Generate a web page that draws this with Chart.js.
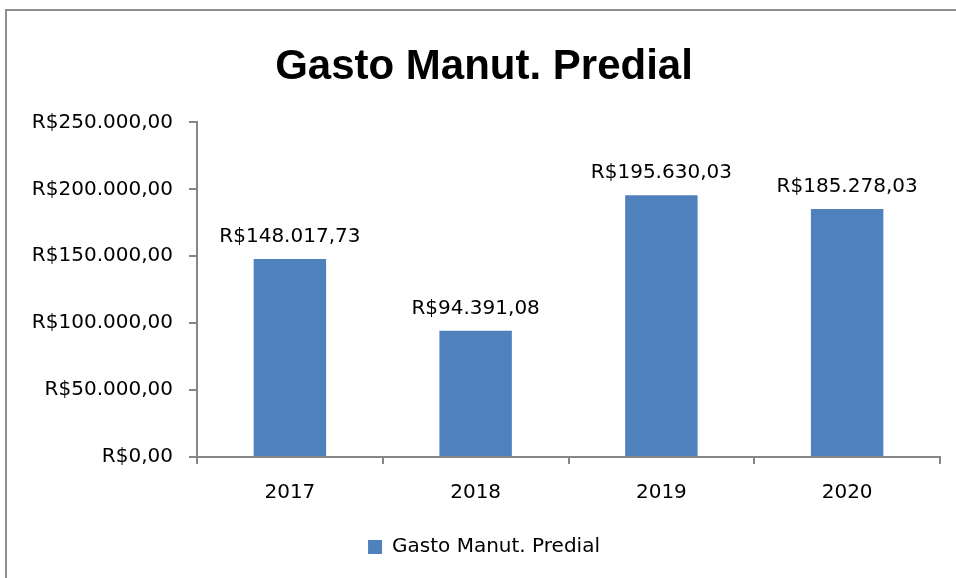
<!DOCTYPE html>
<html>
<head>
<meta charset="utf-8">
<script src="https://cdn.jsdelivr.net/npm/chart.js@4"></script>
<style>
  html, body { margin: 0; padding: 0; background: #fff; }
  #moldura { position: absolute; left: 5px; top: 9px; width: 960px; height: 600px;
             border-left: 2px solid #8e8e8e; border-top: 2px solid #8e8e8e; }
  #caixa { position: absolute; left: 0; top: 0; width: 956px; height: 578px; }
</style>
</head>
<body>
<div id="moldura"></div>
<div id="caixa"><canvas id="grafico" width="956" height="578"></canvas></div>
<script>
// dados do grafico
var anos = ['2017', '2018', '2019', '2020'];
var gastos = [148017.73, 94391.08, 195630.03, 185278.03];
var ticksY = [0, 50000, 100000, 150000, 200000, 250000];
var titulo = 'Gasto Manut. Predial';

// formata em reais: R$148.017,73
function reais(v){
	var partes = v.toFixed(2).split('.');
	var inteiro = partes[0].replace(/\B(?=(\d{3})+(?!\d))/g, '.');
	return 'R$' + inteiro + ',' + partes[1];
}

// rotulos em cima das barras
var rotulos = {
	id: 'rotulos',
	afterDatasetsDraw: function(chart){
		var ctx = chart.ctx;
		var meta = chart.getDatasetMeta(0);
		ctx.save();
		ctx.font = '20px "DejaVu Sans"';
		ctx.fillStyle = '#000';
		ctx.textAlign = 'center';
		ctx.textBaseline = 'alphabetic';
		meta.data.forEach(function(barra, i){
			ctx.fillText(reais(gastos[i]), barra.x, barra.y - 17);
		});
		ctx.restore();
	}
};

var corEixo = '#868686';

new Chart(document.getElementById('grafico'), {
	type: 'bar',
	data: {
		labels: anos,
		datasets: [{
			label: titulo,
			data: gastos,
			backgroundColor: '#4F81BD',
			borderWidth: 0,
			categoryPercentage: 1,
			barPercentage: 0.39
		}]
	},
	options: {
		responsive: false,
		animation: false,
		devicePixelRatio: 1,
		layout: { padding: { left: 28, right: 16, top: 0, bottom: 11 } },
		plugins: {
			tooltip: { enabled: false },
			title: {
				display: true,
				text: titulo,
				color: '#000',
				font: { family: '"Liberation Sans"', size: 42, weight: 'bold', lineHeight: 1.2 },
				padding: { top: 42, bottom: 30 }
			},
			legend: {
				position: 'bottom',
				labels: {
					color: '#000',
					font: { family: '"DejaVu Sans"', size: 20 },
					boxWidth: 14,
					boxHeight: 14,
					padding: 10
				}
			}
		},
		scales: {
			x: {
				grid: { display: true, drawOnChartArea: false, offset: true, color: corEixo, tickLength: 7, lineWidth: 2 },
				border: { color: corEixo, width: 2 },
				ticks: { color: '#000', font: { family: '"DejaVu Sans"', size: 20 }, padding: 17 },
				afterFit: function(eixo){ eixo.height = 70; }
			},
			y: {
				min: 0,
				max: 250000,
				afterBuildTicks: function(eixo){ eixo.ticks = ticksY.map(function(v){ return { value: v }; }); },
				grid: { display: true, drawOnChartArea: false, color: corEixo, tickLength: 8, lineWidth: 2 },
				border: { color: corEixo, width: 2 },
				ticks: {
					color: '#000',
					font: { family: '"DejaVu Sans"', size: 20 },
					padding: 16,
					callback: function(v){ return reais(v); }
				},
				afterFit: function(eixo){ eixo.width = 169; }
			}
		}
	},
	plugins: [rotulos]
});
</script>
</body>
</html>
